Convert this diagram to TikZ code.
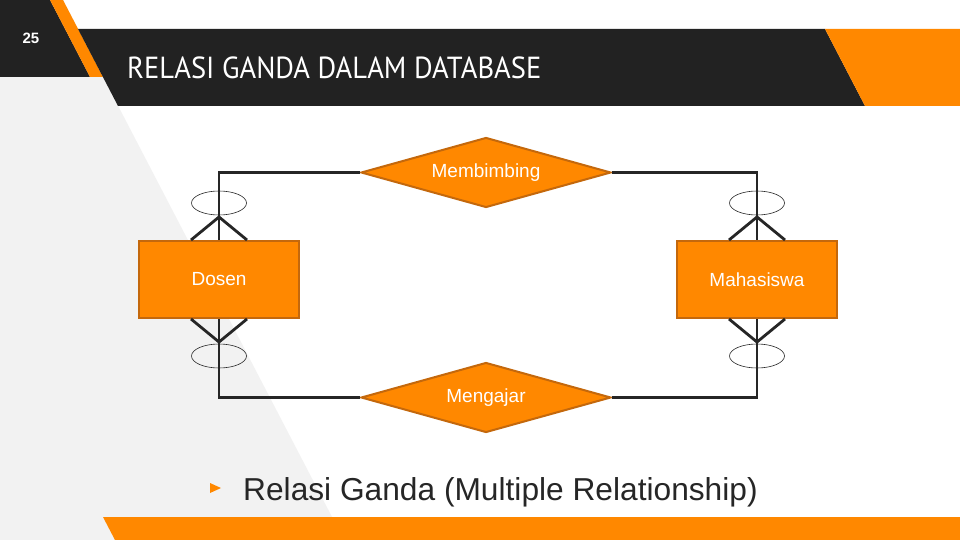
\documentclass[tikz,border=0pt]{standalone}
\usepackage{fontspec}
\setmainfont{Liberation Sans}
\newfontfamily\titlefont{PT Sans}
\usetikzlibrary{shapes.geometric}

\definecolor{slidedark}{HTML}{222222}
\definecolor{slideorange}{HTML}{FF8800}
\definecolor{slidegray}{HTML}{F2F2F2}
\definecolor{boxborder}{RGB}{196,104,12}
\definecolor{linedark}{HTML}{262626}

\begin{document}
\begin{tikzpicture}[x=1pt, y=-1pt,
    entity/.style={draw=boxborder, line width=2pt, fill=slideorange, text=white,
        minimum width=160pt, minimum height=77pt, inner sep=0pt,
        font=\fontsize{19}{21}\selectfont},
    relation/.style={diamond, draw=boxborder, line width=2pt, fill=slideorange, text=white,
        aspect=3.55, minimum width=250pt, minimum height=70pt, inner sep=0pt,
        font=\fontsize{19}{21}\selectfont},
    link/.style={draw=linedark, line width=2.8pt},
    optional/.style={draw=linedark, line width=0.6pt}]

        % Crow's foot sizes
        \def\footHalf{28pt}
        \def\footRise{23pt}
        \def\ringGap{37pt}

        % Background
        \useasboundingbox (0,0) rectangle (960,540);
        \fill[white] (0,0) rectangle (960,540);
        \fill[slidegray] (0,0) -- (63,0) -- (344,540) -- (0,540) -- cycle;
        \fill[slidedark] (0,0) -- (50,0) -- (90,77) -- (0,77) -- cycle;
        \fill[slideorange] (50,0) -- (63,0) -- (103,77) -- (90,77) -- cycle;

        % Title bar
        \fill[slidedark] (78,29) -- (825,29) -- (865,106) -- (118,106) -- cycle;
        \fill[slideorange] (825,29) -- (960,29) -- (960,106) -- (865,106) -- cycle;

        % Bottom bar
        \fill[slideorange] (103,517) -- (960,517) -- (960,540) -- (115,540) -- cycle;

        % Page number and title
        \node[text=white, font=\bfseries\fontsize{15}{16}\selectfont] (pagenum) at (31,38) {25};
        \node[anchor=base west, text=white, inner sep=0pt] (title) at (127,78.5)
            {\resizebox{414pt}{21.7pt}{\titlefont RELASI GANDA DALAM DATABASE}};

        % Entities
        \node[entity] (dosen) at (219,279.5) {Dosen};
        \node[entity] (mahasiswa) at (757,279.5) {Mahasiswa};

        % Relationships
        \node[relation] (membimbing) at (486,172.5) {Membimbing};
        \node[relation] (mengajar) at (486,397.5) {Mengajar};

        % Links
        \draw[link] (dosen.north) |- (membimbing.west);
        \draw[link] (membimbing.east) -| (mahasiswa.north);
        \draw[link] (dosen.south) |- (mengajar.west);
        \draw[link] (mengajar.east) -| (mahasiswa.south);

        % Crow's feet and rings
        \foreach \ent in {dosen, mahasiswa} {
            \draw[link] ([xshift=-\footHalf]\ent.north) -- ([yshift=\footRise]\ent.north)
                -- ([xshift=\footHalf]\ent.north);
            \draw[link] ([xshift=-\footHalf]\ent.south) -- ([yshift=-\footRise]\ent.south)
                -- ([xshift=\footHalf]\ent.south);
            \draw[optional] ([yshift=\ringGap]\ent.north) ellipse [x radius=27.5pt, y radius=12pt];
            \draw[optional] ([yshift=-\ringGap]\ent.south) ellipse [x radius=27.5pt, y radius=12pt];
        }

        % Bullet
        \fill[slideorange] (210,483) -- (221,488) -- (210,493) -- cycle;
        \node[anchor=base west, text=linedark, inner sep=0pt,
            font=\fontsize{31.7}{34}\selectfont] (bullettext) at (243,500)
            {Relasi Ganda (Multiple Relationship)};

\end{tikzpicture}
\end{document}
